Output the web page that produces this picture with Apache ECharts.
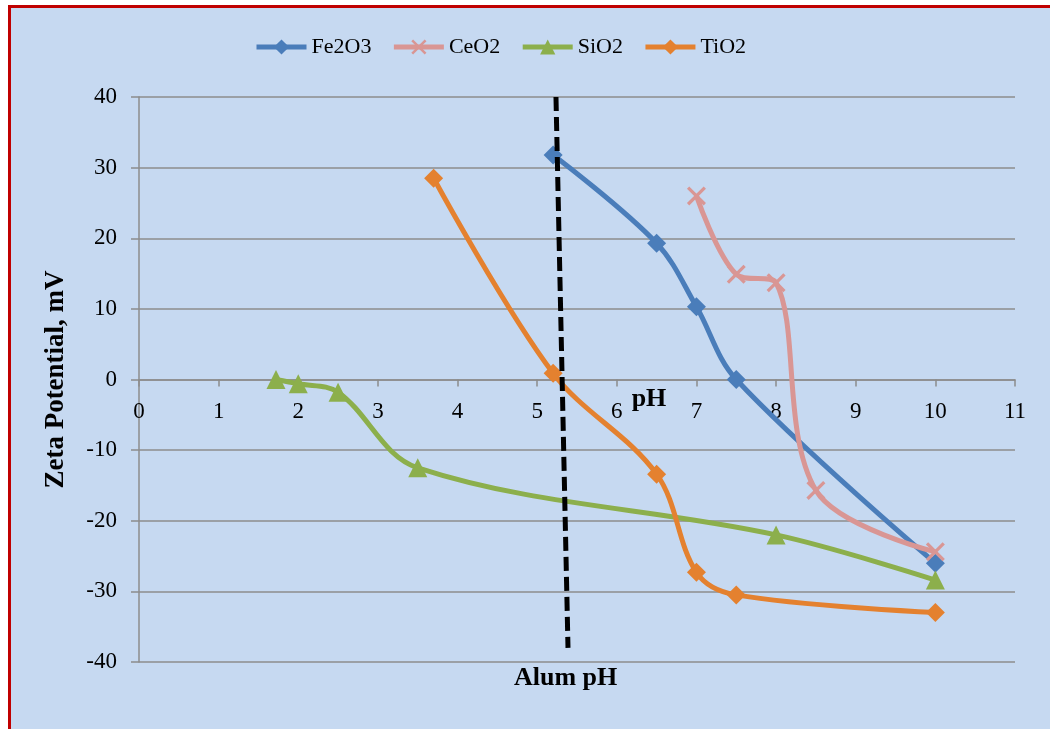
<!DOCTYPE html>
<html><head><meta charset="utf-8">
<script src="https://cdn.jsdelivr.net/npm/echarts@6/dist/echarts.min.js"></script>
<style>
html,body{margin:0;padding:0;background:#fff;}
#bg{position:absolute;left:8px;top:5px;width:1100px;height:800px;background:#C6D9F1;border-top:3px solid #C00000;border-left:3px solid #C00000;}
#chart{position:absolute;left:0;top:0;width:1050px;height:729px;}
</style></head>
<body>
<div id="bg"></div>
<div id="chart"></div>
<script>
const seriesNames = ['Fe2O3', 'CeO2', 'SiO2', 'TiO2'];
const fe2o3 = [[5.2, 31.8], [6.5, 19.3], [7.0, 10.3], [7.5, 0], [10.0, -26.0]];
const ceo2 = [[7.0, 26.0], [7.5, 14.9], [8.0, 13.7], [8.5, -15.7], [10.0, -24.4]];
const sio2 = [[1.72, 0], [2.0, -0.6], [2.5, -1.8], [3.5, -12.5], [8.0, -22.0], [10.0, -28.4]];
const tio2 = [[3.7, 28.5], [5.2, 0.9], [6.5, -13.4], [7.0, -27.3], [7.5, -30.5], [10.0, -33.0]];
const alumLine = [[5.236, 40], [5.387, -38]];
const colors = ['#4A7DBA', '#D99694', '#8CAF4C', '#E4812F'];

const xPath = 'path://M0,1.2L1.2,0L10,8.8L8.8,10Z M8.8,0L10,1.2L1.2,10L0,8.8Z';
const font = 'Liberation Serif, Times New Roman, serif';
const gridTop = 97, gridBottom = 67, chartH = 729;
const plotH = chartH - gridTop - gridBottom;
const yMin = -40, yMax = 40;
// shift the x axis up so it sits at y = 0
const xAxisOffset = -plotH * (0 - yMin) / (yMax - yMin);

function mk(name, data, color, symbol, size) {
  return {
    name: name, type: 'line', data: data, smooth: 0.35,
    symbol: symbol, symbolSize: size,
    lineStyle: {color: color, width: 5},
    itemStyle: {color: color},
    z: 3
  };
}

const chart = echarts.init(document.getElementById('chart'));
chart.setOption({
  backgroundColor: 'transparent',
  animation: false,
  textStyle: {fontFamily: font},
  legend: {
    data: seriesNames, top: 31, left: 249, itemWidth: 50, itemHeight: 19, itemGap: 20,
    lineStyle: {width: 5},
    textStyle: {fontFamily: font, fontSize: 22, color: '#000'}
  },
  grid: {left: 139, right: 35, top: gridTop, bottom: gridBottom, outerBoundsMode: 'none', containLabel: false},
  xAxis: {
    type: 'value', min: 0, max: 11, interval: 1, position: 'bottom', offset: xAxisOffset,
    name: 'pH', nameLocation: 'middle', nameGap: 7, nameMoveOverlap: false,
    nameTextStyle: {fontFamily: font, fontSize: 26, fontWeight: 'bold', color: '#000', padding: [0, 0, 0, 144]},
    axisLine: {onZero: false, lineStyle: {color: '#8C8C8C', width: 1.5}},
    axisTick: {show: true, inside: false, length: 7, lineStyle: {color: '#8C8C8C', width: 1.5}},
    axisLabel: {fontFamily: font, fontSize: 23, color: '#000', margin: 21},
    splitLine: {show: false}
  },
  yAxis: {
    type: 'value', min: yMin, max: yMax, interval: 10,
    name: 'Zeta Potential, mV', nameLocation: 'middle', nameGap: 69, nameRotate: 90,
    nameTextStyle: {fontFamily: font, fontSize: 27, fontWeight: 'bold', color: '#000'},
    axisLine: {show: true, onZero: false, lineStyle: {color: '#8C8C8C', width: 1.5}},
    axisTick: {show: true, inside: false, length: 8, lineStyle: {color: '#8C8C8C', width: 1.5}},
    axisLabel: {fontFamily: font, fontSize: 23, color: '#000', margin: 22},
    splitLine: {show: true, lineStyle: {color: '#8C8C8C', width: 1.5}}
  },
  graphic: [{
    type: 'text', left: 514, top: 665,
    style: {text: 'Alum pH', font: 'bold 26px ' + font, fill: '#000'}
  }],
  series: [
    mk('Fe2O3', fe2o3, colors[0], 'diamond', 19),
    mk('CeO2', ceo2, colors[1], xPath, 19),
    mk('SiO2', sio2, colors[2], 'triangle', 19),
    mk('TiO2', tio2, colors[3], 'diamond', 19),
    {
      name: 'Alum', type: 'line', data: alumLine, symbol: 'none', z: 4,
      lineStyle: {color: '#000', width: 5, type: [14, 6]}
    }
  ]
});
</script>
</body></html>
